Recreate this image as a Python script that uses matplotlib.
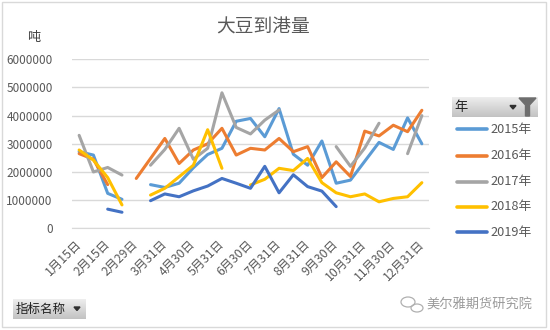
import numpy as np
import matplotlib
matplotlib.use('Agg')
import matplotlib.pyplot as plt
from matplotlib.lines import Line2D
from matplotlib.patches import Rectangle, Polygon, Ellipse

plt.rcParams['font.family'] = ['Noto Sans CJK SC', 'DejaVu Sans']

nan = np.nan

# categories (semi-monthly arrival dates)
dates = ['1月15日', '1月31日', '2月15日', '2月28日', '2月29日', '3月15日', '3月31日',
         '4月15日', '4月30日', '5月15日', '5月31日', '6月15日', '6月30日', '7月15日',
         '7月31日', '8月15日', '8月31日', '9月15日', '9月30日', '10月15日', '10月31日',
         '11月15日', '11月30日', '12月15日', '12月31日']

# arrivals in tonnes
s2015 = [2720000, 2600000, 1240000, 1030000, nan, 1550000, 1450000, 1600000, 2150000,
         2620000, 2840000, 3800000, 3900000, 3250000, 4250000, 2630000, 2240000, 3100000,
         1600000, 1710000, 2380000, 3050000, 2800000, 3920000, 3000000]
s2016 = [2650000, 2450000, 1550000, nan, 1770000, 2480000, 3190000, 2300000, 2780000,
         3000000, 3550000, 2600000, 2840000, 2780000, 3190000, 2720000, 2900000, 1800000,
         2360000, 1840000, 3450000, 3280000, 3660000, 3430000, 4190000]
s2017 = [3300000, 2000000, 2160000, 1890000, nan, 2240000, 2800000, 3550000, 2450000,
         2840000, 4810000, 3580000, 3350000, 3840000, 4200000, nan, nan, nan,
         2900000, 2200000, 2850000, 3730000, nan, 2650000, 4000000]
s2018 = [2780000, 2420000, 1800000, 830000, nan, 1180000, 1420000, 1830000, 2240000,
         3500000, 2130000, nan, 1540000, 1740000, 2130000, 2050000, 2480000, 1620000,
         1260000, 1120000, 1220000, 940000, 1060000, 1120000, 1620000]
s2019 = [nan, nan, 680000, 570000, nan, 980000, 1220000, 1120000, 1330000, 1500000,
         1770000, 1600000, 1420000, 2200000, 1260000, 1900000, 1480000, 1320000, 770000,
         nan, nan, nan, nan, nan, nan]

years = ['2015年', '2016年', '2017年', '2018年', '2019年']
series = [s2015, s2016, s2017, s2018, s2019]
colors = ['#5B9BD5', '#ED7D31', '#A5A5A5', '#FFC000', '#4472C4']

W, H = 550, 330
fig = plt.figure(figsize=(W / 100, H / 100), dpi=100)
fig.patch.set_facecolor('white')

def fx(px):
    return px / W

def fy(py):
    return 1 - py / H

ax = fig.add_axes([fx(72), fy(228.3), fx(429) - fx(72), fy(59.3) - fy(228.3)])
x = np.arange(len(dates))
for vals, c in zip(series, colors):
    ax.plot(x, np.array(vals, dtype=float), color=c, lw=2.2,
            solid_joinstyle='round', solid_capstyle='round')

ax.set_xlim(-0.5, len(dates) - 0.5)
ax.set_ylim(0, 6000000)
ax.set_yticks(np.arange(0, 6000001, 1000000))
ax.set_yticklabels([str(v) for v in range(0, 6000001, 1000000)])
ax.yaxis.grid(True, color='#D9D9D9', lw=1)
ax.set_axisbelow(True)
for side in ['top', 'right', 'left']:
    ax.spines[side].set_visible(False)
ax.spines['bottom'].set_color('#D9D9D9')
ax.tick_params(axis='both', length=0, colors='#595959')
ax.tick_params(axis='y', labelsize=8.5, pad=14)

ax.set_xticks(x[::2])
ax.set_xticklabels(dates[::2], rotation=45, ha='right', va='center',
                   rotation_mode='anchor', fontsize=8.8)
ax.tick_params(axis='x', pad=10)

# title and unit
fig.text(fx(263), fy(27), '大豆到港量', ha='center', va='center', fontsize=13.5,
         color='#595959')
fig.text(fx(34), fy(37), '吨', ha='center', va='center', fontsize=9.5, color='#404040')

# gray gradient for pivot buttons
grad = np.linspace(0.93, 0.76, 50).reshape(-1, 1)

def button(x0, y0, x1, y1):
    bax = fig.add_axes([fx(x0), fy(y1), fx(x1) - fx(x0), fy(y0) - fy(y1)])
    bax.imshow(grad, cmap='gray', vmin=0, vmax=1, aspect='auto', extent=[0, 1, 0, 1])
    bax.set_xlim(0, 1)
    bax.set_ylim(0, 1)
    bax.axis('off')
    return bax

# legend header
button(451.7, 97.3, 537.3, 117.3)
fig.text(fx(454), fy(107.5), '年', ha='left', va='center', fontsize=9.5, color='#202020')
fig.patches.append(Polygon([[fx(510), fy(105.5)], [fx(516), fy(105.5)], [fx(513), fy(109)]],
                           closed=True, color='#303030', transform=fig.transFigure))
fig.patches.append(Polygon([[fx(519), fy(98)], [fx(536), fy(98)], [fx(529.5), fy(105)],
                            [fx(529.5), fy(116)], [fx(525.5), fy(116)], [fx(525.5), fy(105)]],
                           closed=True, color='#6E6E6E', transform=fig.transFigure))

# legend entries
leg_y = [129.3, 156, 181.7, 206.7, 232.3]
for yr, c, ly in zip(years, colors, leg_y):
    fig.lines.append(Line2D([fx(457), fx(487)], [fy(ly), fy(ly)], color=c, lw=2.6,
                            solid_capstyle='round', transform=fig.transFigure))
    fig.text(fx(490.5), fy(ly), yr, ha='left', va='center', fontsize=9.2, color='#595959')

# field button bottom-left
button(13, 298.7, 86, 318.7)
fig.text(fx(16), fy(309), '指标名称', ha='left', va='center', fontsize=9, color='#202020')
fig.patches.append(Polygon([[fx(74), fy(307)], [fx(80), fy(307)], [fx(77), fy(310.5)]],
                           closed=True, color='#303030', transform=fig.transFigure))

# watermark
fig.patches.append(Ellipse((fx(408), fy(302)), fx(14), 10 / H, fill=False, ec='#B0B0B0',
                           lw=0.9, transform=fig.transFigure))
fig.patches.append(Ellipse((fx(417), fy(308)), fx(12), 8 / H, fill=False, ec='#B0B0B0',
                           lw=0.9, transform=fig.transFigure))
fig.text(fx(426), fy(305), '美尔雅期货研究院', ha='left', va='center', fontsize=9.5,
         color='#9A9A9A')

# chart border
fig.patches.append(Rectangle((fx(2), fy(327)), fx(544), 325 / H, fill=False,
                             ec='#D9D9D9', lw=1, transform=fig.transFigure))

fig.savefig('out.png', dpi=100)
